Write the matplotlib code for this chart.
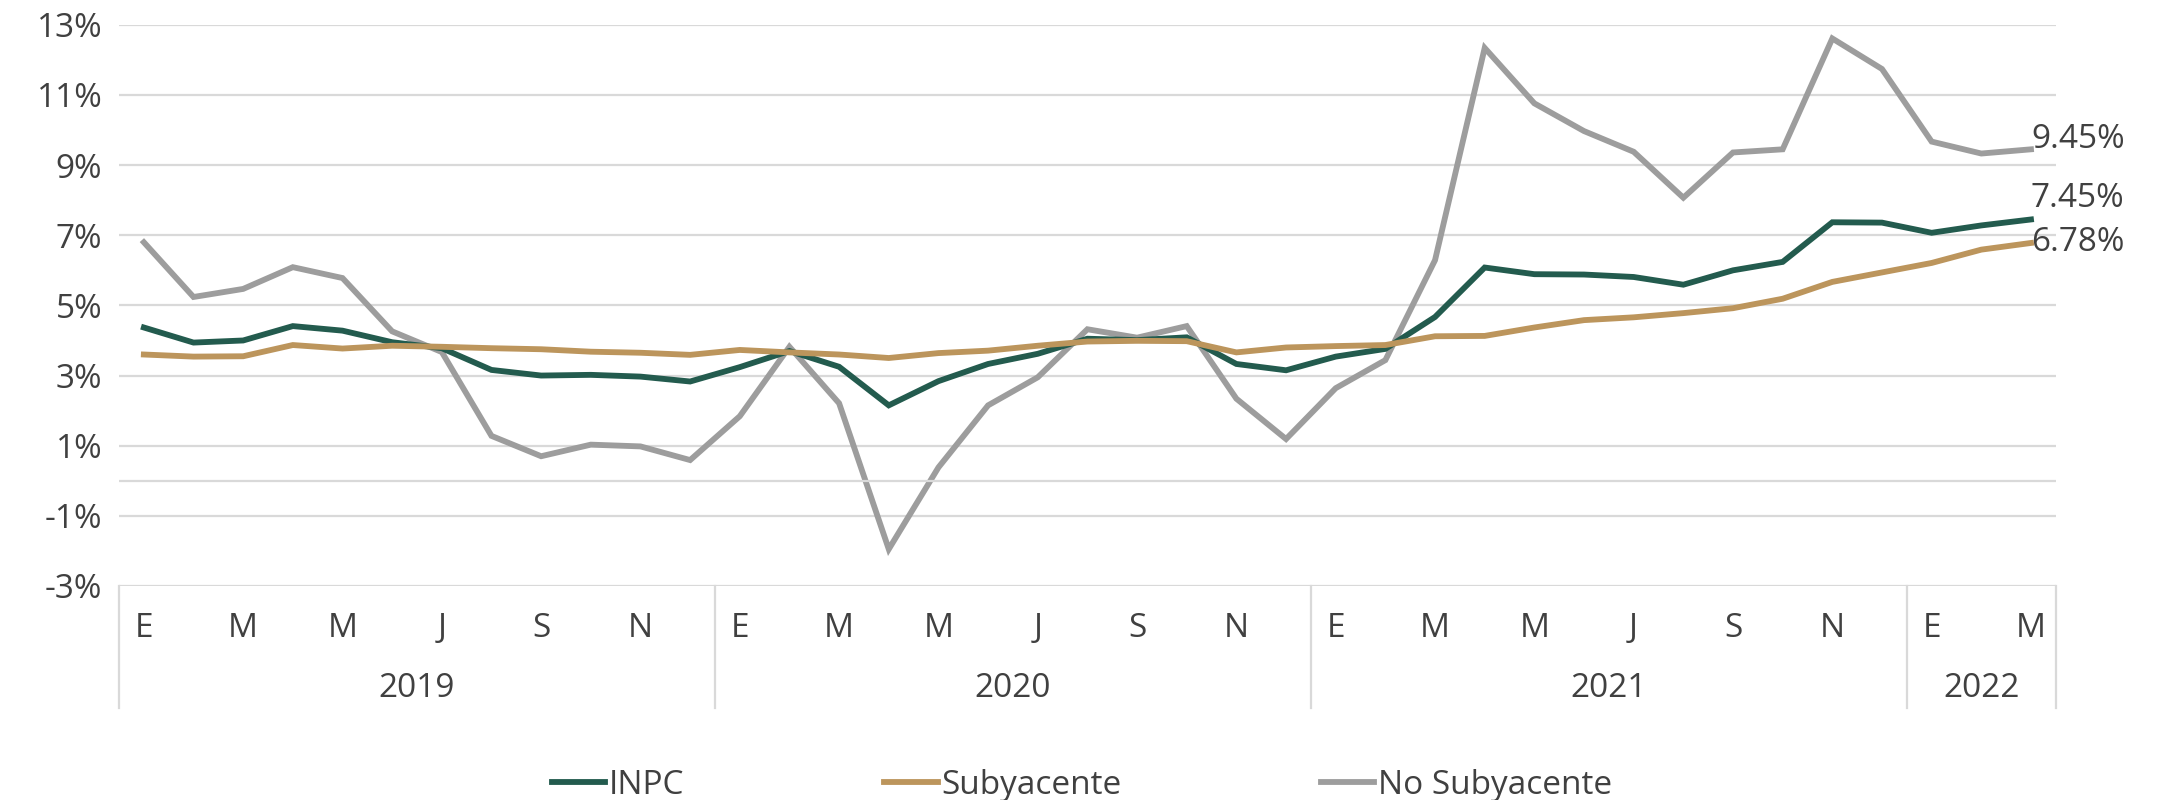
import matplotlib
matplotlib.use("Agg")
import matplotlib.pyplot as plt
from matplotlib.transforms import blended_transform_factory

# annual inflation, Jan 2019 - Mar 2022
inpc = [4.37, 3.94, 4.00, 4.41, 4.28, 3.95, 3.78, 3.16, 3.00, 3.02, 2.97, 2.83,
        3.24, 3.70, 3.25, 2.15, 2.84, 3.33, 3.62, 4.05, 4.01, 4.09, 3.33, 3.15,
        3.54, 3.76, 4.67, 6.08, 5.89, 5.88, 5.81, 5.59, 6.00, 6.24, 7.37, 7.36,
        7.07, 7.28, 7.45]
subyacente = [3.60, 3.54, 3.55, 3.87, 3.77, 3.85, 3.82, 3.78, 3.75, 3.68, 3.65, 3.59,
              3.73, 3.66, 3.60, 3.50, 3.64, 3.71, 3.85, 3.97, 3.99, 3.98, 3.66, 3.80,
              3.84, 3.87, 4.12, 4.13, 4.37, 4.58, 4.66, 4.78, 4.92, 5.19, 5.67, 5.94,
              6.21, 6.59, 6.78]
no_subyacente = [6.80, 5.24, 5.47, 6.09, 5.78, 4.26, 3.67, 1.28, 0.70, 1.03, 0.98, 0.59,
                 1.84, 3.82, 2.21, -1.95, 0.38, 2.15, 2.95, 4.32, 4.08, 4.41, 2.34, 1.19,
                 2.64, 3.44, 6.29, 12.34, 10.76, 9.97, 9.38, 8.07, 9.36, 9.45, 12.61, 11.74,
                 9.67, 9.33, 9.45]
month_labels = ["E", "", "M", "", "M", "", "J", "", "S", "", "N", ""] * 3 + ["E", "", "M"]
years = ["2019", "2020", "2021", "2022"]
year_len = [12, 12, 12, 3]

green = "#235B4E"
tan = "#BC955C"
gray = "#9D9D9D"
grid = "#D9D9D9"
txt = "#404040"

plt.rcParams['font.family'] = ['Open Sans', 'DejaVu Sans']

fig = plt.figure(figsize=(21.64, 8), dpi=100)
ax = fig.add_axes([0.055, 0.2675, 0.895, 0.7015])

x = list(range(len(inpc)))
ax.plot(x, inpc, color=green, lw=4.2, label="INPC", solid_joinstyle="miter", zorder=3)
ax.plot(x, subyacente, color=tan, lw=4.2, label="Subyacente", solid_joinstyle="miter", zorder=3)
ax.plot(x, no_subyacente, color=gray, lw=4.2, label="No Subyacente", solid_joinstyle="miter", zorder=2)

ax.set_xlim(-0.5, len(x) - 0.5)
ax.set_ylim(-3, 13)
yt = list(range(-3, 14, 2))
ax.set_yticks(yt)
ax.set_yticklabels([f"{v}%" for v in yt], fontsize=24, color=txt)
ax.tick_params(axis="y", length=0, pad=12)
ax.grid(axis="y", color=grid, lw=1.6)
ax.axhline(0, color=grid, lw=1.6)
ax.set_xticks([])
for s in ax.spines.values():
    s.set_visible(False)

# category axis: months, years, separators
tr = blended_transform_factory(ax.transData, ax.transAxes)
for i, m in enumerate(month_labels):
    if m:
        ax.text(i, -0.076, m, transform=tr, ha="center", va="center", fontsize=24, color=txt)
start = -0.5
bounds = [start]
for yr, n in zip(years, year_len):
    ax.text(start + n / 2, -0.182, yr, transform=tr, ha="center", va="center", fontsize=24, color=txt)
    start += n
    bounds.append(start)
for b in bounds:
    ax.plot([b, b], [0, -0.218], transform=tr, color=grid, lw=1.6, clip_on=False)

# end labels
last = len(x) - 1
ax.annotate(f"{no_subyacente[-1]:.2f}%", (last, no_subyacente[-1]), xytext=(0, 7),
            textcoords="offset points", ha="left", va="center", fontsize=24, color=txt)
ax.annotate(f"{inpc[-1]:.2f}%", (last, inpc[-1]), xytext=(0, 15),
            textcoords="offset points", ha="left", va="center", fontsize=24, color=txt)
ax.annotate(f"{subyacente[-1]:.2f}%", (last, subyacente[-1]), xytext=(0, 0),
            textcoords="offset points", ha="left", va="center", fontsize=24, color=txt)

fig.legend(loc="lower center", bbox_to_anchor=(0.5, -0.04), ncol=3, frameon=False,
           fontsize=24, labelcolor=txt, handlelength=1.6, handletextpad=0.1,
           columnspacing=6.0)

fig.savefig("out.png", dpi=100)
